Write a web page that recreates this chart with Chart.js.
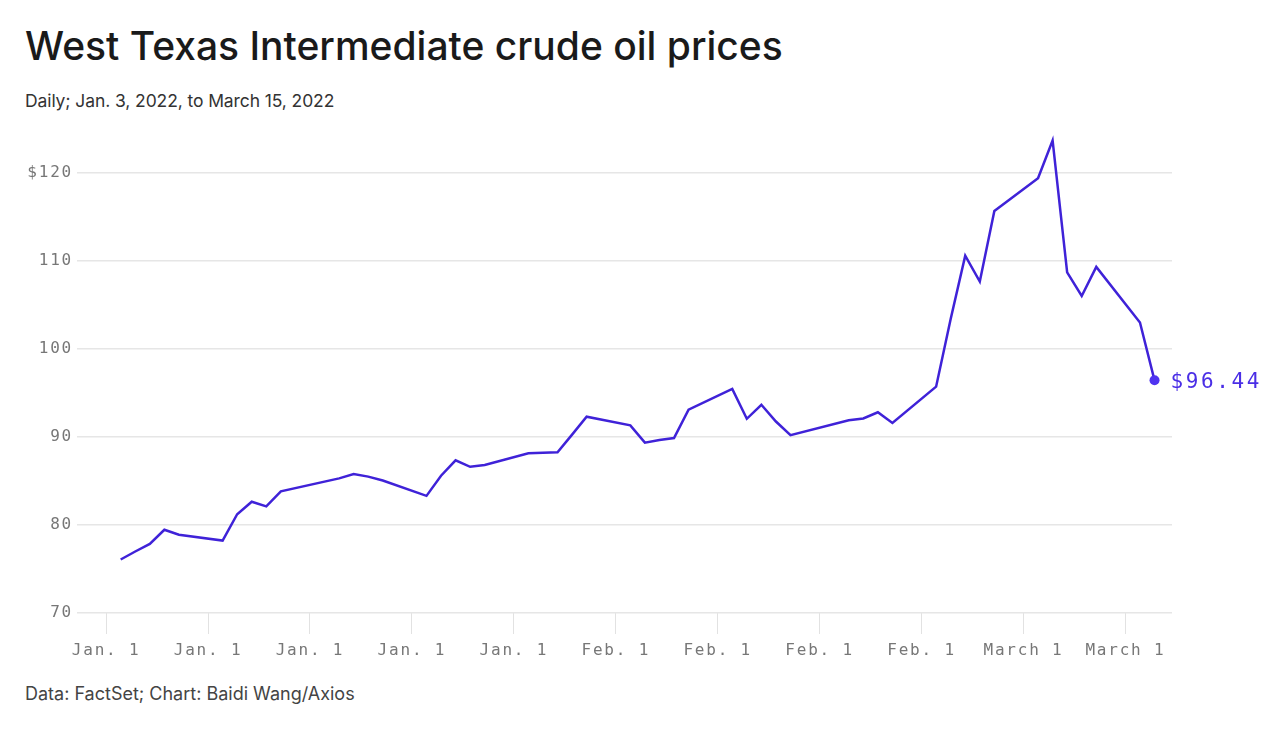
<!DOCTYPE html>
<html>
<head>
<meta charset="utf-8">
<title>WTI crude oil prices</title>
<script src="https://cdn.jsdelivr.net/npm/chart.js@4/dist/chart.umd.min.js"></script>
<style>
  body { margin:0; background:#ffffff; width:1280px; height:746px; overflow:hidden; position:relative; font-family:Inter, "Noto Sans", sans-serif; }
  #title { position:absolute; left:25px; top:26px; font-size:39px; line-height:39px; font-weight:500; letter-spacing:0px; color:#1a1a1a; }
  #subtitle { position:absolute; left:25px; top:92px; font-size:17.5px; line-height:18px; letter-spacing:-0.1px; color:#333; }
  #footer { position:absolute; left:25px; top:685px; font-size:18px; line-height:18px; letter-spacing:0px; color:#444; }
  #wrap { position:absolute; left:0; top:120px; width:1280px; height:560px; }
</style>
</head>
<body>
<div id="title">West Texas Intermediate crude oil prices</div>
<div id="subtitle">Daily; Jan. 3, 2022, to March 15, 2022</div>
<div id="wrap"><canvas id="myChart"></canvas></div>
<div id="footer">Data: FactSet; Chart: Baidi Wang/Axios</div>

<script>
// trading days and closing prices
const dates = [
  "2022-01-03","2022-01-04","2022-01-05","2022-01-06","2022-01-07",
  "2022-01-10","2022-01-11","2022-01-12","2022-01-13","2022-01-14",
  "2022-01-18","2022-01-19","2022-01-20","2022-01-21",
  "2022-01-24","2022-01-25","2022-01-26","2022-01-27","2022-01-28",
  "2022-01-31","2022-02-01","2022-02-02","2022-02-03","2022-02-04",
  "2022-02-07","2022-02-08","2022-02-09","2022-02-10","2022-02-11",
  "2022-02-14","2022-02-15","2022-02-16","2022-02-17","2022-02-18",
  "2022-02-22","2022-02-23","2022-02-24","2022-02-25",
  "2022-02-28","2022-03-01","2022-03-02","2022-03-03","2022-03-04",
  "2022-03-07","2022-03-08","2022-03-09","2022-03-10","2022-03-11",
  "2022-03-14","2022-03-15"
];
const prices = [
  76.08, 76.99, 77.85, 79.46, 78.90,
  78.23, 81.22, 82.64, 82.12, 83.82,
  85.30, 85.80, 85.50, 85.05,
  83.31, 85.60, 87.35, 86.61, 86.82,
  88.15, 88.20, 88.26, 90.27, 92.31,
  91.32, 89.36, 89.66, 89.88, 93.10,
  95.46, 92.07, 93.66, 91.76, 90.20,
  91.90, 92.10, 92.81, 91.59,
  95.72, 103.41, 110.60, 107.67, 115.68,
  119.40, 123.70, 108.70, 106.02, 109.33,
  103.01, 96.44
];

// weekly ticks (Sundays) and the labels the original shows
const tickDates = ["2022-01-02","2022-01-09","2022-01-16","2022-01-23","2022-01-30",
  "2022-02-06","2022-02-13","2022-02-20","2022-02-27","2022-03-06","2022-03-13"];
const tickLabels = ["Jan. 1","Jan. 1","Jan. 1","Jan. 1","Jan. 1",
  "Feb. 1","Feb. 1","Feb. 1","Feb. 1","March 1","March 1"];
const yTicks = [70, 80, 90, 100, 110, 120];
const lastLabel = "$96.44";

//day number counted from Jan. 1, 2022
const start = Date.UTC(2022, 0, 1);
function dayNum(s) {
  var p = s.split("-");
  return (Date.UTC(+p[0], +p[1] - 1, +p[2]) - start) / 86400000;
}

const points = dates.map(function(d, i) { return { x: dayNum(d), y: prices[i] }; });
const tickDays = tickDates.map(dayNum);
const lastIdx = points.length - 1;

const monoFont = "'DejaVu Sans Mono', 'Liberation Mono', monospace";

// wider letter spacing for the mono axis labels (canvas resize resets it, so set it here)
const spacing = {
  id: "spacing",
  beforeDraw(chart) { chart.ctx.letterSpacing = "1.8px"; }
};

// writes the last value next to the end dot
const endLabel = {
  id: "endLabel",
  afterDatasetsDraw(chart) {
    const el = chart.getDatasetMeta(0).data[lastIdx];
    const ctx = chart.ctx;
    ctx.save();
    ctx.letterSpacing = "2.6px";
    ctx.font = "21px " + monoFont;
    ctx.fillStyle = "#4a2ee6";
    ctx.textAlign = "left";
    ctx.textBaseline = "middle";
    ctx.fillText(lastLabel, el.x + 16, el.y + 2);
    ctx.restore();
  }
};

const ctx = document.getElementById("myChart").getContext("2d");

const myChart = new Chart(ctx, {
  type: "line",
  data: {
    datasets: [{
      data: points,
      borderColor: "#3f22d8",
      backgroundColor: "#4f33f0",
      borderWidth: 2.5,
      tension: 0,
      clip: false,
      pointRadius: function(c) { return c.dataIndex === lastIdx ? 5 : 0; },
      pointBorderWidth: 0,
      pointHoverRadius: 0
    }]
  },
  options: {
    responsive: true,
    maintainAspectRatio: false,
    animation: false,
    events: [],
    layout: { padding: { top: 53, right: 108, bottom: 0, left: 0 } },
    plugins: {
      legend: { display: false },
      tooltip: { enabled: false }
    },
    scales: {
      x: {
        type: "linear",
        min: -1,
        max: 74.2,
        afterBuildTicks: function(scale) {
          scale.ticks = tickDays.map(function(v) { return { value: v }; });
        },
        afterFit: function(scale) { scale.height = 67; },
        border: { display: false },
        grid: {
          drawOnChartArea: false,
          drawTicks: true,
          tickLength: 21,
          color: "#e2e2e2"
        },
        ticks: {
          autoSkip: false,
          maxRotation: 0,
          padding: 7,
          color: "#777777",
          font: { family: monoFont, size: 16 },
          callback: function(v, i) { return tickLabels[i]; }
        }
      },
      y: {
        min: 70,
        max: 120,
        afterBuildTicks: function(scale) {
          scale.ticks = yTicks.map(function(v) { return { value: v }; });
        },
        afterFit: function(scale) { scale.width = 77; },
        border: { display: false },
        grid: { drawTicks: false, color: "#e6e6e6", lineWidth: 1.5 },
        ticks: {
          padding: 4,
          color: "#777777",
          font: { family: monoFont, size: 16 },
          callback: function(v) { return v === 120 ? "$" + v : v; }
        }
      }
    }
  },
  plugins: [spacing, endLabel]
});
</script>
</body>
</html>
